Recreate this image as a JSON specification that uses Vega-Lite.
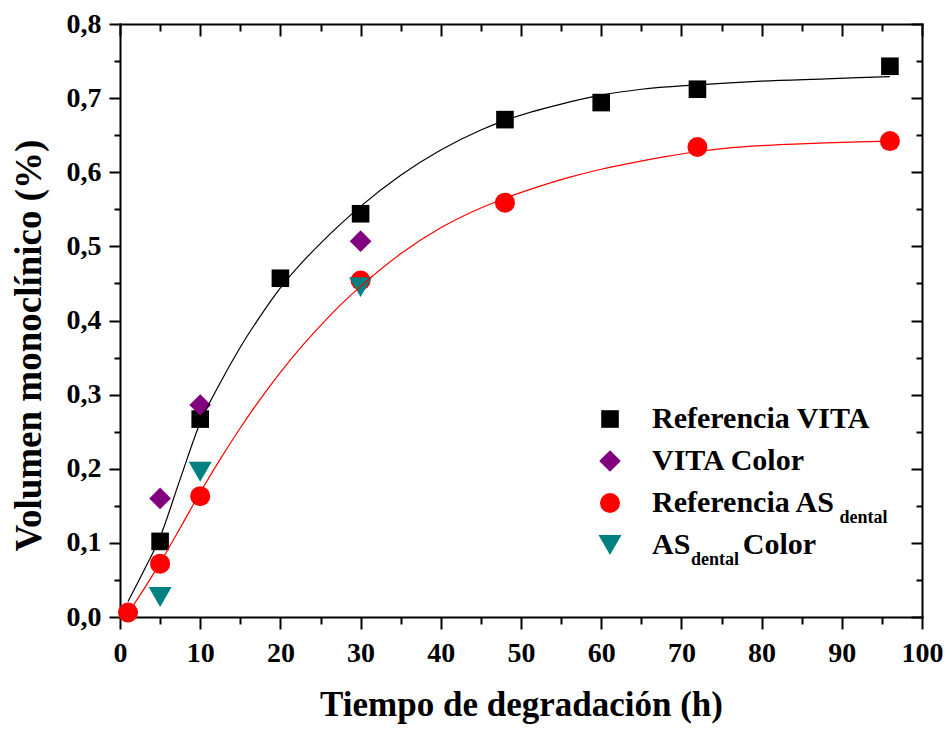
{
  "$schema": "https://vega.github.io/schema/vega-lite/v6.json",
  "width": 802,
  "height": 593,
  "autosize": {"type": "none"},
  "padding": {"left": 120, "top": 24, "right": 27, "bottom": 112},
  "background": "white",
  "config": {
    "view": {"stroke": null},
    "font": "Liberation Serif",
    "axis": {
      "grid": false,
      "domainColor": "black",
      "domainWidth": 2,
      "domainCap": "square",
      "tickColor": "black",
      "tickWidth": 2,
      "labelFont": "Liberation Serif",
      "labelFontSize": 28,
      "labelFontWeight": "bold",
      "labelColor": "black",
      "titleFont": "Liberation Serif",
      "titleFontWeight": "bold",
      "titleColor": "black",
      "labelOverlap": false,
      "labelFlush": false
    },
    "legend": {
      "labelFont": "Liberation Serif",
      "labelFontWeight": "bold",
      "labelColor": "black",
      "labelLimit": 600,
      "padding": 0
    }
  },
  "datasets": {
    "pts": [
      {"t": 5, "v": 0.102, "serie": "Referencia VITA"},
      {"t": 10, "v": 0.267, "serie": "Referencia VITA"},
      {"t": 20, "v": 0.457, "serie": "Referencia VITA"},
      {"t": 30, "v": 0.544, "serie": "Referencia VITA"},
      {"t": 48, "v": 0.671, "serie": "Referencia VITA"},
      {"t": 60, "v": 0.694, "serie": "Referencia VITA"},
      {"t": 72, "v": 0.712, "serie": "Referencia VITA"},
      {"t": 96, "v": 0.743, "serie": "Referencia VITA"},
      {"t": 5, "v": 0.160, "serie": "VITA Color"},
      {"t": 10, "v": 0.286, "serie": "VITA Color"},
      {"t": 30, "v": 0.507, "serie": "VITA Color"},
      {"t": 1, "v": 0.006, "serie": "Referencia AS dental"},
      {"t": 5, "v": 0.072, "serie": "Referencia AS dental"},
      {"t": 10, "v": 0.163, "serie": "Referencia AS dental"},
      {"t": 30, "v": 0.454, "serie": "Referencia AS dental"},
      {"t": 48, "v": 0.559, "serie": "Referencia AS dental"},
      {"t": 72, "v": 0.634, "serie": "Referencia AS dental"},
      {"t": 96, "v": 0.642, "serie": "Referencia AS dental"},
      {"t": 5, "v": 0.027, "serie": "AS dental Color"},
      {"t": 10, "v": 0.196, "serie": "AS dental Color"},
      {"t": 30, "v": 0.445, "serie": "AS dental Color"}
    ],
    "fit": [
      {"t": 1, "v": 0.021, "curva": "VITA"},
      {"t": 3, "v": 0.063, "curva": "VITA"},
      {"t": 5, "v": 0.108, "curva": "VITA"},
      {"t": 7.5, "v": 0.186, "curva": "VITA"},
      {"t": 10, "v": 0.262, "curva": "VITA"},
      {"t": 12.5, "v": 0.316, "curva": "VITA"},
      {"t": 15, "v": 0.364, "curva": "VITA"},
      {"t": 17.5, "v": 0.406, "curva": "VITA"},
      {"t": 20, "v": 0.444, "curva": "VITA"},
      {"t": 22.5, "v": 0.476, "curva": "VITA"},
      {"t": 25, "v": 0.504, "curva": "VITA"},
      {"t": 27.5, "v": 0.530, "curva": "VITA"},
      {"t": 30, "v": 0.554, "curva": "VITA"},
      {"t": 35, "v": 0.596, "curva": "VITA"},
      {"t": 40, "v": 0.630, "curva": "VITA"},
      {"t": 45, "v": 0.657, "curva": "VITA"},
      {"t": 48, "v": 0.670, "curva": "VITA"},
      {"t": 55, "v": 0.692, "curva": "VITA"},
      {"t": 60, "v": 0.704, "curva": "VITA"},
      {"t": 65, "v": 0.712, "curva": "VITA"},
      {"t": 72, "v": 0.718, "curva": "VITA"},
      {"t": 80, "v": 0.723, "curva": "VITA"},
      {"t": 88, "v": 0.726, "curva": "VITA"},
      {"t": 96, "v": 0.729, "curva": "VITA"},
      {"t": 1, "v": 0.005, "curva": "AS"},
      {"t": 3, "v": 0.038, "curva": "AS"},
      {"t": 5, "v": 0.073, "curva": "AS"},
      {"t": 7.5, "v": 0.120, "curva": "AS"},
      {"t": 10, "v": 0.168, "curva": "AS"},
      {"t": 12.5, "v": 0.213, "curva": "AS"},
      {"t": 15, "v": 0.255, "curva": "AS"},
      {"t": 17.5, "v": 0.294, "curva": "AS"},
      {"t": 20, "v": 0.330, "curva": "AS"},
      {"t": 22.5, "v": 0.363, "curva": "AS"},
      {"t": 25, "v": 0.393, "curva": "AS"},
      {"t": 27.5, "v": 0.421, "curva": "AS"},
      {"t": 30, "v": 0.446, "curva": "AS"},
      {"t": 35, "v": 0.490, "curva": "AS"},
      {"t": 40, "v": 0.525, "curva": "AS"},
      {"t": 44, "v": 0.547, "curva": "AS"},
      {"t": 48, "v": 0.565, "curva": "AS"},
      {"t": 52, "v": 0.580, "curva": "AS"},
      {"t": 56, "v": 0.593, "curva": "AS"},
      {"t": 60, "v": 0.604, "curva": "AS"},
      {"t": 64, "v": 0.613, "curva": "AS"},
      {"t": 68, "v": 0.621, "curva": "AS"},
      {"t": 72, "v": 0.628, "curva": "AS"},
      {"t": 76, "v": 0.633, "curva": "AS"},
      {"t": 80, "v": 0.636, "curva": "AS"},
      {"t": 84, "v": 0.638, "curva": "AS"},
      {"t": 88, "v": 0.6397, "curva": "AS"},
      {"t": 92, "v": 0.641, "curva": "AS"},
      {"t": 96, "v": 0.642, "curva": "AS"}
    ]
  },
  "resolve": {"axis": {"x": "independent", "y": "independent"}},
  "layer": [
    {
      "data": {"name": "pts"},
      "mark": {"type": "point", "filled": true, "opacity": 1, "strokeWidth": 0},
      "encoding": {
        "x": {"field": "t", "type": "quantitative", "scale": {"domain": [0, 100], "nice": false}, "axis": null},
        "y": {"field": "v", "type": "quantitative", "scale": {"domain": [0, 0.8], "nice": false}, "axis": null},
        "color": {
          "field": "serie", "type": "nominal",
          "scale": {"domain": ["Referencia VITA", "VITA Color", "Referencia AS dental", "AS dental Color"], "range": ["#000000", "#800080", "#FF0000", "#008080"]},
          "legend": {
            "title": null,
            "orient": "none",
            "legendX": 475,
            "legendY": 380,
            "labelFontSize": 30,
            "labelOffset": 27,
            "rowPadding": 12,
            "symbolStrokeWidth": 0,
            "labelExpr": "datum.value == 'Referencia AS dental' ? 'Referencia AS' : datum.value == 'AS dental Color' ? 'AS\u00a0\u00a0\u00a0\u00a0\u00a0\u00a0\u00a0Color' : datum.label"
          }
        },
        "shape": {
          "field": "serie", "type": "nominal",
          "scale": {"domain": ["Referencia VITA", "VITA Color", "Referencia AS dental", "AS dental Color"], "range": ["square", "diamond", "circle", "triangle-down"]}
        },
        "size": {
          "field": "serie", "type": "nominal",
          "scale": {"type": "ordinal", "domain": ["Referencia VITA", "VITA Color", "Referencia AS dental", "AS dental Color"], "range": [310, 470, 400, 530]}
        },
        "strokeDash": {
          "field": "serie", "type": "nominal",
          "sort": ["Referencia VITA", "VITA Color", "Referencia AS dental", "AS dental Color"],
          "scale": {"range": [[1, 0], [1, 0], [1, 0], [1, 0]]},
          "legend": {
            "title": null,
            "orient": "none",
            "legendX": 553,
            "legendY": 401,
            "labelFontSize": 18,
            "labelOffset": 0,
            "symbolOpacity": 0,
            "symbolSize": 4,
            "rowPadding": 24,
            "labelExpr": "datum.value == 'Referencia AS dental' ? '\u200b\u00a0\u00a0\u00a0\u00a0\u00a0\u00a0\u00a0\u00a0\u00a0\u00a0\u00a0\u00a0\u00a0\u00a0\u00a0\u00a0\u00a0\u00a0\u00a0\u00a0\u00a0\u00a0\u00a0\u00a0\u00a0\u00a0\u00a0\u00a0\u00a0\u00a0\u00a0\u00a0\u00a0dental' : datum.value == 'AS dental Color' ? 'dental' : '\u00a0'"
          }
        }
      }
    },
    {
      "data": {"name": "fit"},
      "transform": [{"filter": "datum.curva == 'VITA'"}],
      "mark": {"type": "line", "color": "black", "strokeWidth": 1.2, "interpolate": "monotone"},
      "encoding": {
        "x": {
          "field": "t", "type": "quantitative", "scale": {"domain": [0, 100], "nice": false},
          "axis": {
            "orient": "bottom",
            "values": [0, 5, 10, 15, 20, 25, 30, 35, 40, 45, 50, 55, 60, 65, 70, 75, 80, 85, 90, 95, 100],
            "labelExpr": "datum.value % 10 === 0 ? datum.label : ''",
            "tickSize": {"condition": {"test": "datum.value % 10 !== 0", "value": 7}, "value": 12},
            "labelPadding": 10,
            "title": "Tiempo de degradación (h)",
            "titleFontSize": 35,
            "titleX": 401,
            "titleY": 98,
            "titleAlign": "center",
            "titleBaseline": "alphabetic"
          }
        },
        "y": {
          "field": "v", "type": "quantitative", "scale": {"domain": [0, 0.8], "nice": false},
          "axis": {
            "orient": "left",
            "values": [0, 0.05, 0.1, 0.15, 0.2, 0.25, 0.3, 0.35, 0.4, 0.45, 0.5, 0.55, 0.6, 0.65, 0.7, 0.75, 0.8],
            "labelExpr": "round(datum.value * 20) % 2 === 1 ? '' : replace(format(datum.value, '.1f'), '.', ',')",
            "tickSize": {"condition": {"test": "round(datum.value * 20) % 2 === 1", "value": 6}, "value": 11},
            "labelPadding": 8,
            "title": "Volumen monoclínico (%)",
            "titleFontSize": 37,
            "titleAngle": -90,
            "titleX": -80,
            "titleY": 321,
            "titleAlign": "center",
            "titleBaseline": "alphabetic"
          }
        }
      }
    },
    {
      "data": {"name": "fit"},
      "transform": [{"filter": "datum.curva == 'AS'"}],
      "mark": {"type": "line", "color": "#FF0000", "strokeWidth": 1.2, "interpolate": "monotone"},
      "encoding": {
        "x": {
          "field": "t", "type": "quantitative", "scale": {"domain": [0, 100], "nice": false},
          "axis": {
            "orient": "top",
            "values": [0, 5, 10, 15, 20, 25, 30, 35, 40, 45, 50, 55, 60, 65, 70, 75, 80, 85, 90, 95, 100],
            "labels": false,
            "title": null,
            "tickSize": {"condition": {"test": "datum.value % 10 !== 0", "value": -7}, "value": -12}
          }
        },
        "y": {
          "field": "v", "type": "quantitative", "scale": {"domain": [0, 0.8], "nice": false},
          "axis": {
            "orient": "right",
            "values": [0, 0.05, 0.1, 0.15, 0.2, 0.25, 0.3, 0.35, 0.4, 0.45, 0.5, 0.55, 0.6, 0.65, 0.7, 0.75, 0.8],
            "labels": false,
            "title": null,
            "tickSize": {"condition": {"test": "round(datum.value * 20) % 2 === 1", "value": -6}, "value": -11}
          }
        }
      }
    }
  ]
}
